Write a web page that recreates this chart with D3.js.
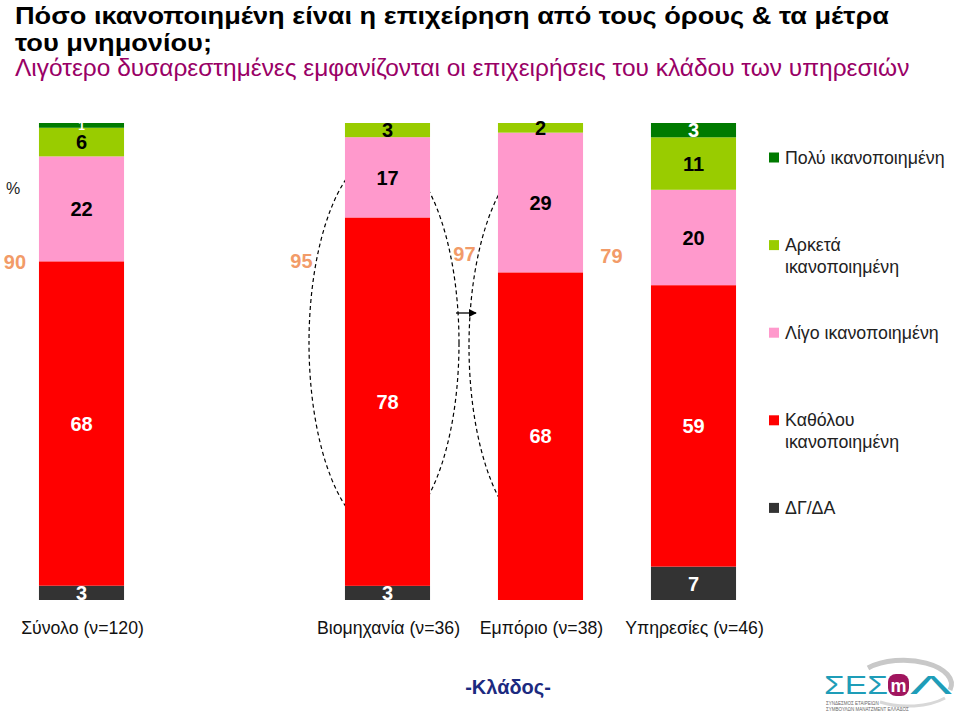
<!DOCTYPE html>
<html><head><meta charset="utf-8">
<script src="https://cdn.jsdelivr.net/npm/d3@7"></script>
<style>html,body{margin:0;padding:0;background:#fff;}svg{display:block;}</style>
</head><body>
<svg id="chart" width="959" height="720"></svg>
<script>
// ---------- data ----------
const categories = ["Σύνολο (ν=120)", "Βιομηχανία (ν=36)", "Εμπόριο (ν=38)", "Υπηρεσίες (ν=46)"];
const slots = ["Σύνολο (ν=120)", "__gap__", "Βιομηχανία (ν=36)", "Εμπόριο (ν=38)", "Υπηρεσίες (ν=46)"];
const seriesNames = ["ΔΓ/ΔΑ", "Καθόλου ικανοποιημένη", "Λίγο ικανοποιημένη", "Αρκετά ικανοποιημένη", "Πολύ ικανοποιημένη"];
const dkna   = [3, 3, 0, 7];
const none   = [68, 78, 68, 59];
const little = [22, 17, 29, 20];
const fairly = [6, 3, 2, 11];
const very   = [1, 0, 0, 3];
const totals = [90, 95, 97, 79]; // Καθόλου + Λίγο
const legendItems = [
  {key: "Πολύ ικανοποιημένη", lines: ["Πολύ ικανοποιημένη"]},
  {key: "Αρκετά ικανοποιημένη", lines: ["Αρκετά", "ικανοποιημένη"]},
  {key: "Λίγο ικανοποιημένη", lines: ["Λίγο ικανοποιημένη"]},
  {key: "Καθόλου ικανοποιημένη", lines: ["Καθόλου", "ικανοποιημένη"]},
  {key: "ΔΓ/ΔΑ", lines: ["ΔΓ/ΔΑ"]}
];

const colors = {
  "ΔΓ/ΔΑ": "#333333",
  "Καθόλου ικανοποιημένη": "#FF0000",
  "Λίγο ικανοποιημένη": "#FF99CC",
  "Αρκετά ικανοποιημένη": "#99CC00",
  "Πολύ ικανοποιημένη": "#007A00"
};
const labelColors = {
  "ΔΓ/ΔΑ": "#ffffff",
  "Καθόλου ικανοποιημένη": "#ffffff",
  "Λίγο ικανοποιημένη": "#000000",
  "Αρκετά ικανοποιημένη": "#000000",
  "Πολύ ικανοποιημένη": "#ffffff"
};

const FONT = "'Liberation Sans', Arial, Helvetica, sans-serif";
const svg = d3.select("#chart");

// ---------- table ----------
const table = categories.map((c, i) => ({
  cat: c,
  "ΔΓ/ΔΑ": dkna[i],
  "Καθόλου ικανοποιημένη": none[i],
  "Λίγο ικανοποιημένη": little[i],
  "Αρκετά ικανοποιημένη": fairly[i],
  "Πολύ ικανοποιημένη": very[i]
}));

const stack = d3.stack().keys(seriesNames).offset(d3.stackOffsetExpand);
const layers = stack(table);

// ---------- scales ----------
const x = d3.scaleBand().domain(slots).range([5, 770]).paddingInner(0.444).paddingOuter(0.222);
const y = d3.scaleLinear().domain([0, 1]).range([600, 123]);
const bw = x.bandwidth();

// ---------- title ----------
function fit(sel, w) {
  const cur = sel.node().getComputedTextLength();
  const fs = parseFloat(sel.attr("font-size"));
  sel.attr("font-size", fs * w / cur);
  return fs * w / cur;
}
const t1 = svg.append("text").attr("x", 15).attr("y", 24).attr("font-family", FONT)
  .attr("font-weight", "bold").attr("font-size", 23.5).attr("fill", "#000")
  .text("Πόσο ικανοποιημένη είναι η επιχείρηση από τους όρους & τα μέτρα");
const ratio = 874 / t1.node().getComputedTextLength();
t1.attr("textLength", 874).attr("lengthAdjust", "spacingAndGlyphs");
const t2 = svg.append("text").attr("x", 15).attr("y", 51).attr("font-family", FONT)
  .attr("font-weight", "bold").attr("font-size", 23.5).attr("fill", "#000")
  .text("του μνημονίου;");
t2.attr("textLength", t2.node().getComputedTextLength() * ratio).attr("lengthAdjust", "spacingAndGlyphs");
const st = svg.append("text").attr("x", 15).attr("y", 76).attr("font-family", FONT)
  .attr("font-size", 20).attr("fill", "#990066")
  .text("Λιγότερο δυσαρεστημένες εμφανίζονται οι επιχειρήσεις του κλάδου των υπηρεσιών");
fit(st, 895);

svg.append("text").attr("x", 6).attr("y", 194).attr("font-family", FONT)
  .attr("font-size", 16).attr("fill", "#222").text("%");

// ---------- dashed ellipse annotations (behind bars) ----------
const gAnn = svg.append("g").attr("fill", "none").attr("stroke", "#000")
  .attr("stroke-width", 1.2).attr("stroke-dasharray", "4,3");
const c2 = x(categories[1]) + bw / 2, c3 = x(categories[2]) + bw / 2;
gAnn.append("ellipse").attr("cx", c2 - 3.5).attr("cy", 343).attr("rx", 75).attr("ry", 190);
const e2cx = c3 + 3.5, e2cy = 346, e2rx = 75, e2ry = 190;
gAnn.append("path").attr("d", `M${e2cx},${e2cy - e2ry} A${e2rx},${e2ry} 0 0 0 ${e2cx},${e2cy + e2ry}`);

// ---------- bars ----------
const gBars = svg.append("g");
layers.forEach(layer => {
  gBars.append("g").attr("fill", colors[layer.key])
    .selectAll("rect").data(layer).join("rect")
    .attr("x", d => x(d.data.cat))
    .attr("width", bw)
    .attr("y", d => y(d[1]))
    .attr("height", d => y(d[0]) - y(d[1]));
});

// ---------- arrow ----------
const defs = svg.append("defs");
defs.append("marker").attr("id", "arr").attr("viewBox", "0 0 10 10").attr("refX", 9).attr("refY", 5)
  .attr("markerWidth", 8).attr("markerHeight", 8).attr("markerUnits", "userSpaceOnUse").attr("orient", "auto")
  .append("path").attr("d", "M0,0 L10,5 L0,10 Z").attr("fill", "#000");
svg.append("line").attr("x1", c2 - 3.5 + 72).attr("x2", e2cx - 68).attr("y1", 313).attr("y2", 313)
  .attr("stroke", "#000").attr("stroke-width", 1.3).attr("marker-end", "url(#arr)");

// ---------- segment labels ----------
const gLab = svg.append("g").attr("font-family", FONT).attr("font-weight", "bold")
  .attr("text-anchor", "middle");
layers.forEach(layer => {
  layer.forEach(d => {
    const v = d.data[layer.key];
    if (!v) return;
    const h = y(d[0]) - y(d[1]);
    gLab.append("text")
      .attr("x", x(d.data.cat) + bw / 2)
      .attr("y", (y(d[0]) + y(d[1])) / 2)
      .attr("dy", "0.36em")
      .attr("font-size", h < 8 ? 12 : 20)
      .attr("fill", labelColors[layer.key])
      .text(v);
  });
});

// ---------- totals (orange) ----------
const totDx = [-24, -43.5, -33.5, -39.5];
const totCy = [262, 261, 254, 256];
svg.append("g").attr("font-family", FONT).attr("font-weight", "bold").attr("font-size", 20)
  .attr("text-anchor", "middle").attr("fill", "#F29B68")
  .selectAll("text").data(totals).join("text")
  .attr("x", (d, i) => x(categories[i]) + totDx[i])
  .attr("y", (d, i) => totCy[i]).attr("dy", "0.36em")
  .text(d => d);

// ---------- category axis labels ----------
svg.append("g").attr("font-family", FONT).attr("font-size", 17.7).attr("fill", "#111")
  .attr("text-anchor", "middle")
  .selectAll("text").data(categories).join("text")
  .attr("x", d => x(d) + bw / 2 + 1)
  .attr("y", 634)
  .text(d => d);

// ---------- legend ----------
const gLeg = svg.append("g").attr("font-family", FONT).attr("font-size", 17.8).attr("fill", "#222");
legendItems.forEach((it, i) => {
  const cy = 157.5 + i * 87.6;
  gLeg.append("rect").attr("x", 769).attr("y", cy - 5).attr("width", 10).attr("height", 10)
    .attr("fill", colors[it.key]);
  it.lines.forEach((ln, j) => {
    gLeg.append("text").attr("x", 785).attr("y", cy + 6 + j * 22).text(ln);
  });
});

// ---------- footer ----------
svg.append("text").attr("x", 508).attr("y", 694).attr("text-anchor", "middle")
  .attr("font-family", FONT).attr("font-weight", "bold").attr("font-size", 20)
  .attr("fill", "#1C2A80").text("-Κλάδος-");

// logo
const lg = svg.append("g");
lg.append("path").attr("d", "M868,668 A48,24 0 0 1 950,690").attr("fill", "none")
  .attr("stroke", "#c8c8c8").attr("stroke-width", 5);
lg.append("path").attr("d", "M880,702 A48,22 0 0 0 945,698").attr("fill", "none")
  .attr("stroke", "#d8d8d8").attr("stroke-width", 3);
lg.append("text").attr("x", 824).attr("y", 694).attr("font-family", FONT).attr("font-size", 25)
  .attr("fill", "#1E9DB8").attr("textLength", 64).attr("lengthAdjust", "spacingAndGlyphs").text("ΣΕΣ");
lg.append("rect").attr("x", 888).attr("y", 674).attr("width", 21).attr("height", 22).attr("rx", 8)
  .attr("fill", "#A0155E");
lg.append("text").attr("x", 898.5).attr("y", 692).attr("text-anchor", "middle").attr("font-family", FONT)
  .attr("font-weight", "bold").attr("font-size", 18).attr("fill", "#fff").text("m");
lg.append("text").attr("x", 910).attr("y", 694).attr("font-family", FONT).attr("font-size", 25)
  .attr("fill", "#1E9DB8").attr("textLength", 42).attr("lengthAdjust", "spacingAndGlyphs").text("Λ");
lg.append("text").attr("x", 826).attr("y", 705).attr("font-family", FONT).attr("font-size", 4.5)
  .attr("fill", "#666").text("ΣΥΝΔΕΣΜΟΣ ΕΤΑΙΡΕΙΩΝ");
lg.append("text").attr("x", 826).attr("y", 711).attr("font-family", FONT).attr("font-size", 4.5)
  .attr("fill", "#666").text("ΣΥΜΒΟΥΛΩΝ ΜΑΝΑΤΖΜΕΝΤ ΕΛΛΑΔΟΣ");
</script>
</body></html>
